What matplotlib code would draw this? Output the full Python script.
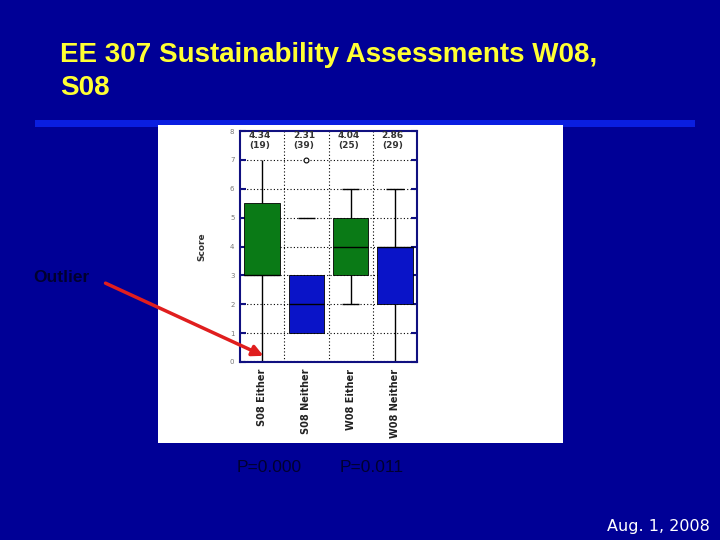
import matplotlib.pyplot as plt
from matplotlib.patches import Rectangle, FancyArrowPatch

categories = ['S08 Either', 'S08 Neither', 'W08 Either', 'W08 Neither']
means = ['4.34', '2.31', '4.04', '2.86']
counts = ['(19)', '(39)', '(25)', '(29)']
q1 = [3, 1, 3, 2]
q3 = [5.5, 3, 5, 4]
medians = [3, 2, 4, 4]
whisk_lo = [0, 0, 2, 0]
whisk_hi = [7, 5, 6, 6]
outlier_x = [1]
outlier_y = [7]
box_colors = ['#0a7a16', '#0a14c8', '#0a7a16', '#0a14c8']
p_values = ['P=0.000', 'P=0.011']

W, H = 720, 540
BG = '#000096'


def fx(px):
    return px / W


def fy(py):
    return 1 - py / H


fig = plt.figure(figsize=(7.2, 5.4), dpi=100)
fig.patch.set_facecolor(BG)

# title
fig.text(fx(60), fy(55), 'EE 307 Sustainability Assessments W08,',
         color='#ffff33', fontsize=20, fontweight='bold', family='Liberation Sans',
         va='center', ha='left')
fig.text(fx(60), fy(88), 'S08',
         color='#ffff33', fontsize=20, fontweight='bold', family='Liberation Sans',
         va='center', ha='left')

# blue rule under the title
fig.add_artist(Rectangle((fx(35), fy(127)), fx(695) - fx(35), 7 / H,
                         transform=fig.transFigure, color='#0a1ee0', lw=0, zorder=-1))
# white panel behind the plot
fig.add_artist(Rectangle((fx(158), fy(443)), fx(563) - fx(158), (443 - 125) / H,
                         transform=fig.transFigure, color='white', lw=0, zorder=-1))

ax = fig.add_axes([fx(240), fy(362), fx(417) - fx(240), (362 - 131) / H])
ax.set_zorder(1)
ax.set_facecolor('white')
ax.set_xlim(-0.5, 3.5)
ax.set_ylim(0, 8)

# grid
for y in range(1, 8):
    ax.axhline(y, color='black', ls=(0, (1, 2)), lw=0.8, zorder=1)
for x in [0.5, 1.5, 2.5]:
    ax.axvline(x, color='black', ls=(0, (1, 2)), lw=0.8, zorder=1)
ax.axhline(0.05, color='black', ls=(0, (1, 2)), lw=0.8, zorder=1)

pos = list(range(len(categories)))
for i in pos:
    if i not in outlier_x:
        ax.vlines(i, whisk_lo[i], q1[i], color='black', lw=1, zorder=2)
        ax.vlines(i, q3[i], whisk_hi[i], color='black', lw=1, zorder=2)
    ax.hlines(whisk_lo[i], i - 0.2, i + 0.2, color='black', lw=1, zorder=2)
    if whisk_hi[i] < 7:
        ax.hlines(whisk_hi[i], i - 0.2, i + 0.2, color='black', lw=1, zorder=2)
ax.bar(pos, [b - a for a, b in zip(q1, q3)], bottom=q1, width=0.8,
       color=box_colors, edgecolor='black', lw=0.6, zorder=3)
ax.hlines(medians, [p - 0.4 for p in pos], [p + 0.4 for p in pos],
          color='black', lw=1, zorder=4)
ax.plot(outlier_x, outlier_y, 'o', mfc='white', mec='black', ms=3.5, mew=0.8, zorder=4)

for i in pos:
    ax.text(i - 0.05, 7.68, means[i] + '\n' + counts[i], ha='center', va='center',
            fontsize=6.5, color='#333333', fontweight='bold', linespacing=1.2)

ax.set_yticks(range(9))
ax.set_yticklabels([str(v) for v in range(9)], fontsize=5, color='#777777')
ax.tick_params(axis='y', direction='in', length=4, width=1.5, color='#101080',
               right=True, pad=4)
ax.set_xticks(pos)
ax.set_xticklabels(categories, rotation=90, fontsize=7, fontweight='bold',
                   color='#222222')
ax.tick_params(axis='x', length=0, pad=5)
for s in ax.spines.values():
    s.set_color('#101080')
    s.set_linewidth(1.5)
ax.set_ylabel('Score', fontsize=6.5, fontweight='bold', color='#333333', labelpad=17)

# outlier callout
fig.text(fx(33), fy(277), 'Outlier', color='#000030', fontsize=12.5,
         fontweight='bold', family='Liberation Sans', va='center')
fig.add_artist(FancyArrowPatch((fx(103), fy(282)), (fx(266), fy(357)),
                               transform=fig.transFigure, arrowstyle='-|>',
                               mutation_scale=16, color='#e01e1e', lw=2.5, zorder=5))

for x, t in zip([237, 340], p_values):
    fig.text(fx(x), fy(467), t, color='#000030', fontsize=12.5,
             family='Liberation Sans', va='center')

fig.text(fx(710), fy(527), 'Aug. 1, 2008', color='white', fontsize=11.5,
         family='DejaVu Sans', ha='right', va='center')

fig.savefig('out.png', dpi=100, facecolor=fig.get_facecolor())
